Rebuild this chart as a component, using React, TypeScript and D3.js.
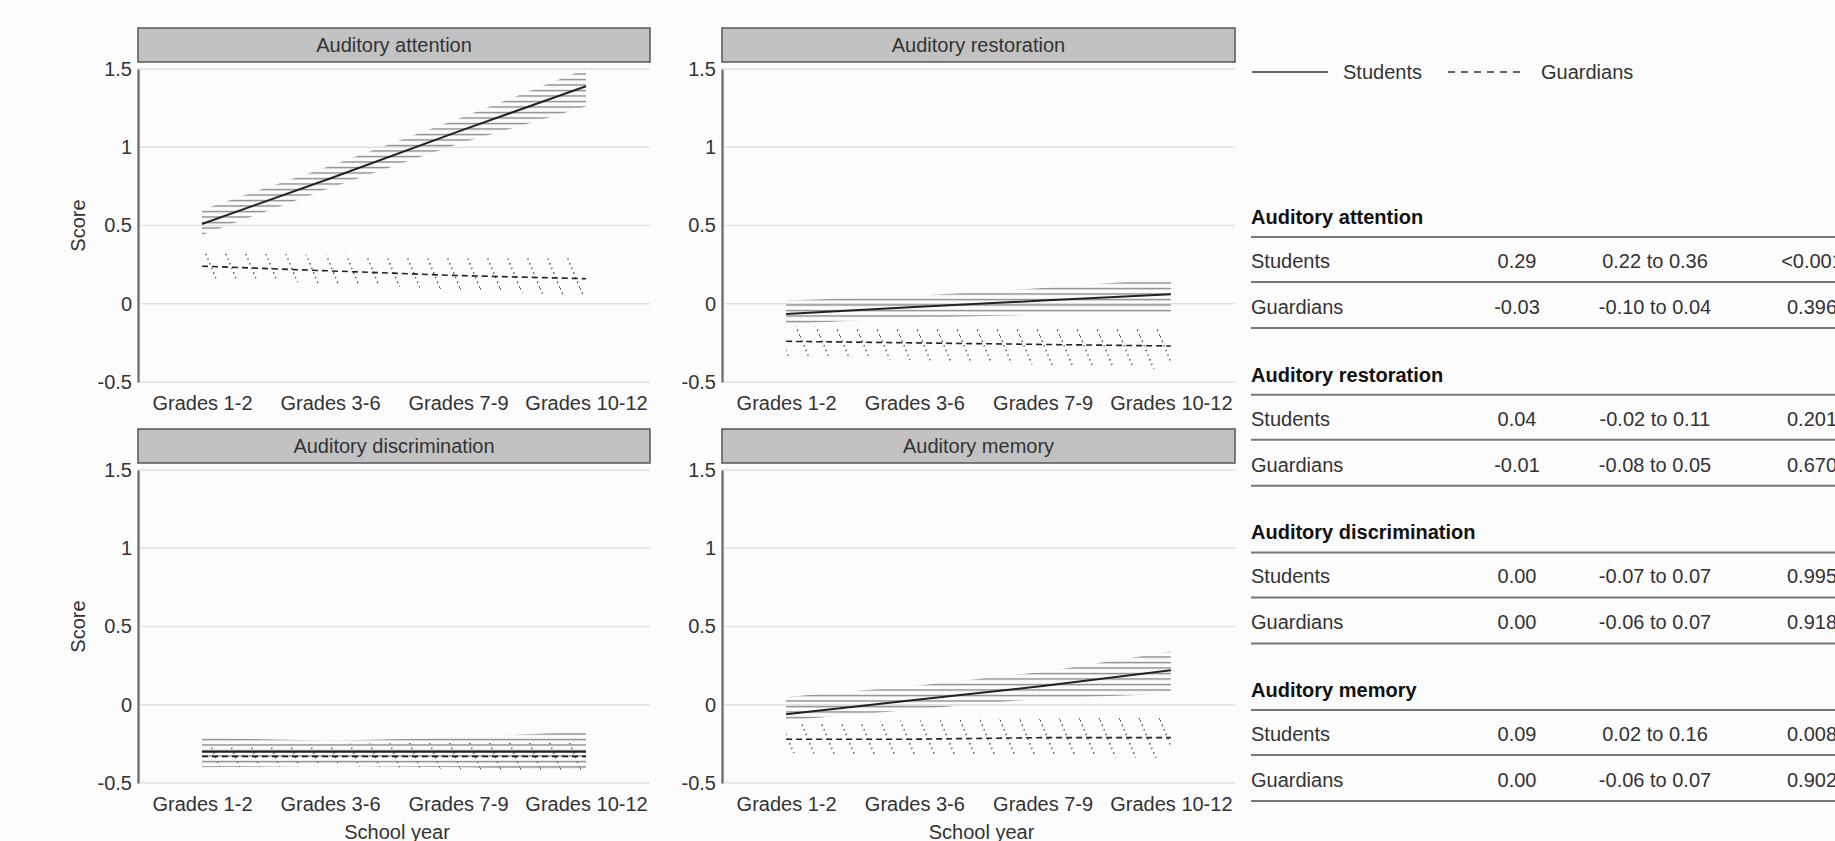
import { useRef, useEffect } from "react";
import * as d3 from "d3";

// x categories and y ticks
const grades = ["Grades 1-2", "Grades 3-6", "Grades 7-9", "Grades 10-12"];
const yTicks = [-0.5, 0, 0.5, 1, 1.5];
const panelTitles = [
  "Auditory attention",
  "Auditory restoration",
  "Auditory discrimination",
  "Auditory memory",
];

// fitted lines and CI ribbons, one value per grade group
const attentionStudents = [0.51, 0.8, 1.1, 1.39];
const attentionStudentsLo = [0.44, 0.74, 1.02, 1.26];
const attentionStudentsHi = [0.6, 0.88, 1.18, 1.5];
const attentionGuardians = [0.24, 0.21, 0.18, 0.16];
const attentionGuardiansLo = [0.16, 0.13, 0.09, 0.05];
const attentionGuardiansHi = [0.33, 0.31, 0.3, 0.29];

const restorationStudents = [-0.065, -0.02, 0.02, 0.06];
const restorationStudentsLo = [-0.13, -0.09, -0.07, -0.06];
const restorationStudentsHi = [0.02, 0.05, 0.1, 0.16];
const restorationGuardians = [-0.24, -0.25, -0.26, -0.27];
const restorationGuardiansLo = [-0.34, -0.36, -0.39, -0.42];
const restorationGuardiansHi = [-0.14, -0.15, -0.15, -0.15];

const discriminationStudents = [-0.3, -0.3, -0.3, -0.3];
const discriminationStudentsLo = [-0.4, -0.39, -0.4, -0.42];
const discriminationStudentsHi = [-0.21, -0.23, -0.21, -0.17];
const discriminationGuardians = [-0.33, -0.33, -0.33, -0.33];
const discriminationGuardiansLo = [-0.4, -0.39, -0.41, -0.43];
const discriminationGuardiansHi = [-0.26, -0.25, -0.24, -0.22];

const memoryStudents = [-0.06, 0.03, 0.12, 0.22];
const memoryStudentsLo = [-0.1, -0.03, 0.04, 0.07];
const memoryStudentsHi = [0.05, 0.12, 0.21, 0.34];
const memoryGuardians = [-0.22, -0.22, -0.21, -0.21];
const memoryGuardiansLo = [-0.31, -0.32, -0.33, -0.34];
const memoryGuardiansHi = [-0.12, -0.1, -0.09, -0.08];

// table on the right
const studentsEst = ["0.29", "0.04", "0.00", "0.09"];
const studentsCI = ["0.22 to 0.36", "-0.02 to 0.11", "-0.07 to 0.07", "0.02 to 0.16"];
const studentsP = ["<0.001", "0.201", "0.995", "0.008"];
const guardiansEst = ["-0.03", "-0.01", "0.00", "0.00"];
const guardiansCI = ["-0.10 to 0.04", "-0.08 to 0.05", "-0.06 to 0.07", "-0.06 to 0.07"];
const guardiansP = ["0.396", "0.670", "0.918", "0.902"];

const FONT = "'Liberation Sans', Arial, sans-serif";

function App() {
  const svgRef = useRef<SVGSVGElement>(null);

  useEffect(() => {
    const w = 1835;
    const h = 841;
    const svg = d3.select(svgRef.current).attr("width", w).attr("height", h);
    svg.selectAll("*").remove();

    // hatch patterns for the ribbons
    const defs = svg.append("defs");
    const ps = defs
      .append("pattern")
      .attr("id", "hatchS")
      .attr("patternUnits", "userSpaceOnUse")
      .attr("width", 12)
      .attr("height", 5.5);
    ps.append("line")
      .attr("x1", 0).attr("x2", 12).attr("y1", 2.5).attr("y2", 2.5)
      .attr("stroke", "#888").attr("stroke-width", 1.4);
    const pg = defs
      .append("pattern")
      .attr("id", "hatchG")
      .attr("patternUnits", "userSpaceOnUse")
      .attr("width", 20)
      .attr("height", 48);
    pg.append("line")
      .attr("x1", 0).attr("y1", 0).attr("x2", 20).attr("y2", 48)
      .attr("stroke", "#444").attr("stroke-width", 1.3)
      .attr("stroke-dasharray", "1.5,3.5");

    const series = [
      [attentionStudents, attentionStudentsLo, attentionStudentsHi, attentionGuardians, attentionGuardiansLo, attentionGuardiansHi],
      [restorationStudents, restorationStudentsLo, restorationStudentsHi, restorationGuardians, restorationGuardiansLo, restorationGuardiansHi],
      [discriminationStudents, discriminationStudentsLo, discriminationStudentsHi, discriminationGuardians, discriminationGuardiansLo, discriminationGuardiansHi],
      [memoryStudents, memoryStudentsLo, memoryStudentsHi, memoryGuardians, memoryGuardiansLo, memoryGuardiansHi],
    ];

    const colX = [
      [138, 650],
      [722, 1235],
    ];
    const rowY = [
      [69, 382],
      [470, 783],
    ];

    panelTitles.forEach((title, i) => {
      const col = i % 2;
      const row = Math.floor(i / 2);
      const [x0, x1] = colX[col];
      const [yt, yb] = rowY[row];
      const x = d3.scalePoint<string>().domain(grades).range([x0, x1]).padding(0.5);
      const y = d3.scaleLinear().domain([-0.5, 1.5]).range([yb, yt]);
      const g = svg.append("g");

      // strip
      g.append("rect")
        .attr("x", x0).attr("y", yt - 41)
        .attr("width", x1 - x0).attr("height", 34)
        .attr("fill", "#c2c2c2").attr("stroke", "#555").attr("stroke-width", 1.5);
      g.append("text")
        .attr("x", (x0 + x1) / 2).attr("y", yt - 24).attr("dy", "0.35em")
        .attr("text-anchor", "middle").attr("font-family", FONT)
        .attr("font-size", 20).attr("fill", "#333").text(title);

      // grid
      g.selectAll(".grid")
        .data(yTicks)
        .enter()
        .append("line")
        .attr("x1", x0).attr("x2", x1)
        .attr("y1", (d) => y(d)).attr("y2", (d) => y(d))
        .attr("stroke", "#e2e2e2").attr("stroke-width", 1.5);

      // y axis
      const yAxis = d3.axisLeft(y).tickValues(yTicks).tickSize(0).tickPadding(6)
        .tickFormat((d) => String(d));
      const ya = g.append("g").attr("transform", `translate(${x0},0)`).call(yAxis);
      ya.select(".domain").attr("stroke", "#666").attr("stroke-width", 2.2);
      ya.selectAll("text").attr("font-family", FONT).attr("font-size", 20).attr("fill", "#333");

      // x axis labels
      const xAxis = d3.axisBottom(x).tickSize(0).tickPadding(14);
      const xa = g.append("g").attr("transform", `translate(0,${yb})`).call(xAxis);
      xa.select(".domain").remove();
      xa.selectAll("text").attr("font-family", FONT).attr("font-size", 20).attr("fill", "#333");

      const [s, sLo, sHi, gu, gLo, gHi] = series[i];
      const area = d3
        .area<number>()
        .x((_, k) => x(grades[k]) as number)
        .y0((d) => y(d));
      const line = d3
        .line<number>()
        .x((_, k) => x(grades[k]) as number)
        .y((d) => y(d));

      g.append("path")
        .attr("d", area.y1((_, k) => y(gHi[k]))(gLo) as string)
        .attr("fill", "url(#hatchG)");
      g.append("path")
        .attr("d", area.y1((_, k) => y(sHi[k]))(sLo) as string)
        .attr("fill", "url(#hatchS)");
      g.append("path")
        .attr("d", line(gu) as string)
        .attr("fill", "none").attr("stroke", "#222").attr("stroke-width", 1.6)
        .attr("stroke-dasharray", "6,4");
      g.append("path")
        .attr("d", line(s) as string)
        .attr("fill", "none").attr("stroke", "#222").attr("stroke-width", 2);

      if (col === 0) {
        g.append("text")
          .attr("transform", `translate(78,${(yt + yb) / 2}) rotate(-90)`)
          .attr("dy", "0.35em").attr("text-anchor", "middle")
          .attr("font-family", FONT).attr("font-size", 20).attr("fill", "#333")
          .text("Score");
      }
      if (row === 1) {
        g.append("text")
          .attr("x", (x0 + x1) / 2 + 3).attr("y", 839)
          .attr("text-anchor", "middle").attr("font-family", FONT)
          .attr("font-size", 20).attr("fill", "#333").text("School year");
      }
    });

    // legend
    const lg = svg.append("g").attr("font-family", FONT).attr("font-size", 20).attr("fill", "#333");
    lg.append("line").attr("x1", 1252).attr("x2", 1328).attr("y1", 72).attr("y2", 72)
      .attr("stroke", "#333").attr("stroke-width", 1.6);
    lg.append("text").attr("x", 1343).attr("y", 72).attr("dy", "0.35em").text("Students");
    lg.append("line").attr("x1", 1448).attr("x2", 1523).attr("y1", 72).attr("y2", 72)
      .attr("stroke", "#333").attr("stroke-width", 1.6).attr("stroke-dasharray", "7,6");
    lg.append("text").attr("x", 1541).attr("y", 72).attr("dy", "0.35em").text("Guardians");

    // table
    const tb = svg.append("g").attr("font-family", FONT).attr("font-size", 20).attr("fill", "#333");
    panelTitles.forEach((title, i) => {
      const y0 = 217 + i * 157.7;
      tb.append("text").attr("x", 1251).attr("y", y0).attr("dy", "0.35em")
        .attr("font-weight", "bold").attr("fill", "#111").text(title);
      [20, 65, 111].forEach((dy) => {
        tb.append("line").attr("x1", 1251).attr("x2", 1840)
          .attr("y1", y0 + dy).attr("y2", y0 + dy)
          .attr("stroke", "#777").attr("stroke-width", 2);
      });
      const rows = [
        ["Students", studentsEst[i], studentsCI[i], studentsP[i], 44],
        ["Guardians", guardiansEst[i], guardiansCI[i], guardiansP[i], 90],
      ];
      rows.forEach(([name, est, ci, p, dy]) => {
        const yy = y0 + (dy as number);
        tb.append("text").attr("x", 1251).attr("y", yy).attr("dy", "0.35em").text(name as string);
        tb.append("text").attr("x", 1517).attr("y", yy).attr("dy", "0.35em")
          .attr("text-anchor", "middle").text(est as string);
        tb.append("text").attr("x", 1655).attr("y", yy).attr("dy", "0.35em")
          .attr("text-anchor", "middle").text(ci as string);
        tb.append("text").attr("x", 1812).attr("y", yy).attr("dy", "0.35em")
          .attr("text-anchor", "middle").text(p as string);
      });
    });
  }, []);

  return (
    <svg
      ref={svgRef}
      style={{ position: "absolute", left: 0, top: 0, background: "#fcfcfc" }}
    ></svg>
  );
}

export default App;
